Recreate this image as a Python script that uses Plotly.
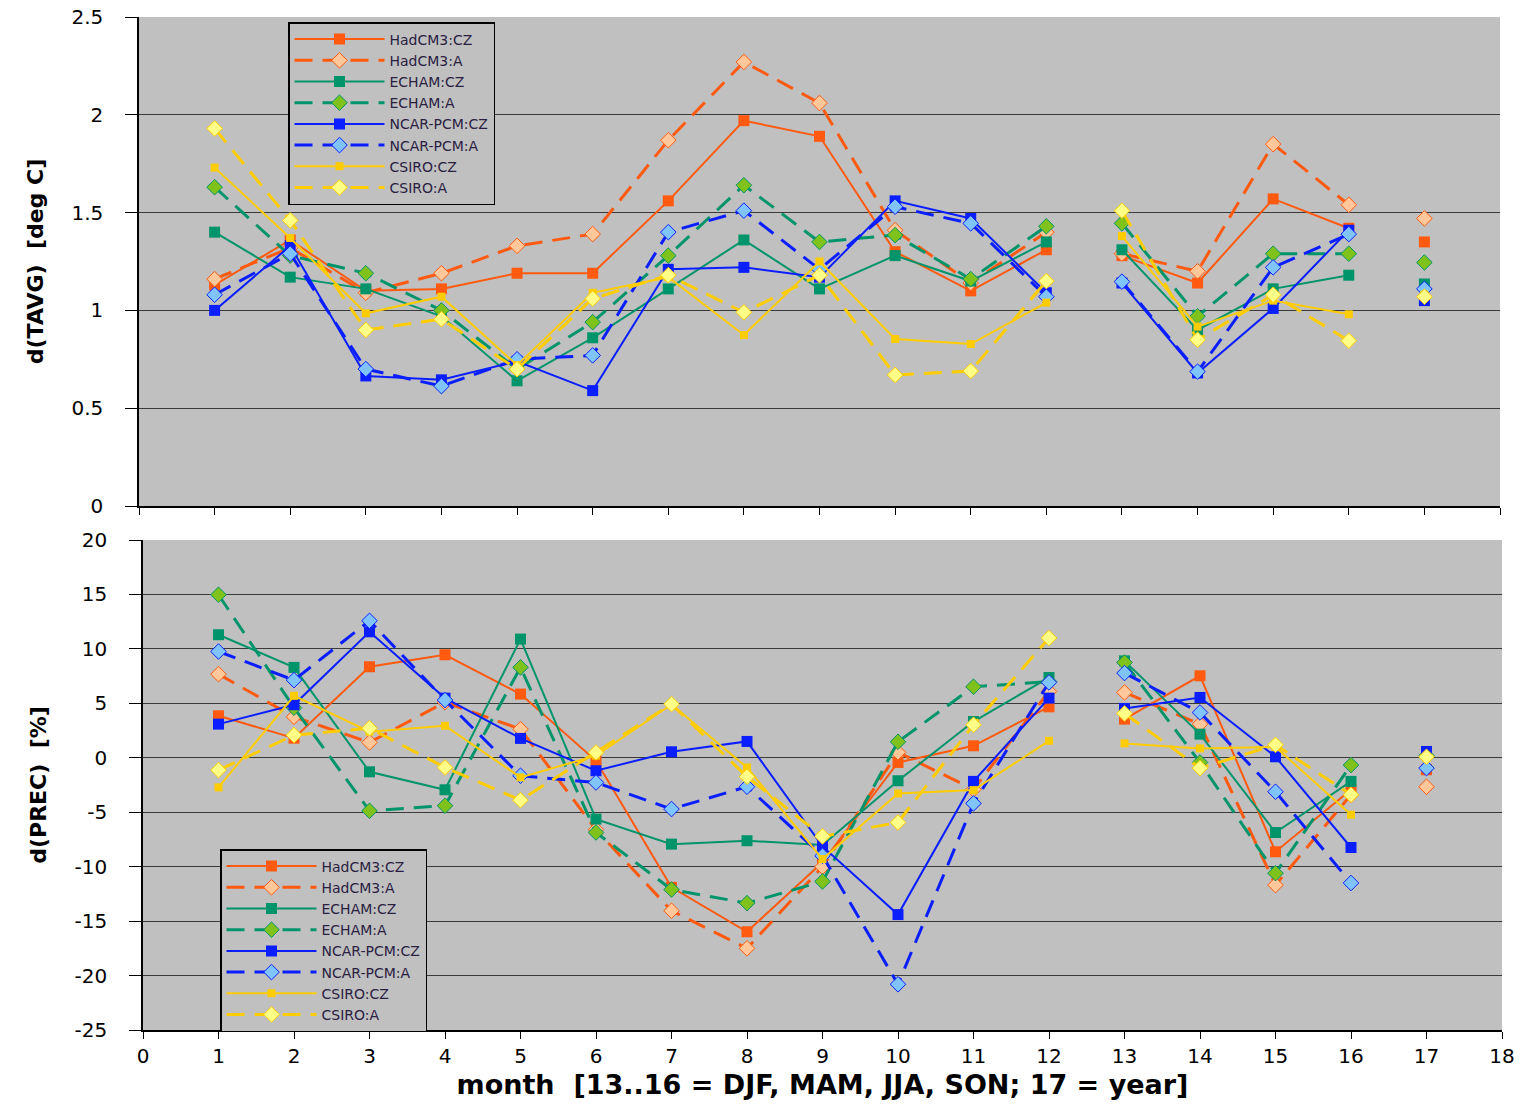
import plotly.graph_objects as go

# ---------------- data ----------------
MONTHS = list(range(1, 18))
SEGMENTS = [(1, 12), (13, 16), (17, 17)]
SERIES = ["HadCM3:CZ", "HadCM3:A", "ECHAM:CZ", "ECHAM:A",
          "NCAR-PCM:CZ", "NCAR-PCM:A", "CSIRO:CZ", "CSIRO:A"]

# d(TAVG) [deg C]
hadcm3_cz_t = [1.13, 1.36, 1.10, 1.11, 1.19, 1.19, 1.56, 1.97, 1.89, 1.30, 1.10, 1.31, 1.28, 1.14, 1.57, 1.42, 1.35]
hadcm3_a_t = [1.16, 1.32, 1.09, 1.19, 1.33, 1.39, 1.87, 2.27, 2.06, 1.41, 1.14, 1.40, 1.29, 1.20, 1.85, 1.54, 1.47]
echam_cz_t = [1.40, 1.17, 1.11, 0.97, 0.64, 0.86, 1.11, 1.36, 1.11, 1.28, 1.15, 1.35, 1.31, 0.90, 1.11, 1.18, 1.135]
echam_a_t = [1.63, 1.28, 1.19, 1.00, 0.70, 0.94, 1.28, 1.64, 1.35, 1.385, 1.16, 1.43, 1.445, 0.97, 1.29, 1.29, 1.245]
ncar_cz_t = [1.00, 1.33, 0.665, 0.645, 0.74, 0.59, 1.21, 1.22, 1.17, 1.56, 1.47, 1.09, 1.14, 0.68, 1.01, 1.41, 1.05]
ncar_a_t = [1.08, 1.29, 0.70, 0.613, 0.75, 0.77, 1.40, 1.51, 1.21, 1.53, 1.445, 1.07, 1.147, 0.687, 1.22, 1.39, 1.11]
csiro_cz_t = [1.73, 1.37, 0.985, 1.07, 0.72, 1.09, 1.17, 0.874, 1.25, 0.854, 0.828, 1.04, 1.38, 0.917, 1.05, 0.98, 1.08]
csiro_a_t = [1.93, 1.46, 0.90, 0.955, 0.70, 1.06, 1.18, 0.99, 1.18, 0.67, 0.69, 1.15, 1.51, 0.85, 1.08, 0.845, 1.07]

# d(PREC) [%]
hadcm3_cz_p = [3.86, 1.8, 8.36, 9.46, 5.85, -0.28, -11.9, -15.98, -9.6, -0.43, 1.1, 4.68, 3.55, 7.53, -8.63, -2.94, -1.1]
hadcm3_a_p = [7.68, 3.76, 1.41, 5.1, 2.63, -6.6, -14.05, -17.5, -10.0, 0.5, -2.9, 6.09, 6.0, 3.09, -11.69, -3.4, -2.66]
echam_cz_p = [11.3, 8.3, -1.29, -2.94, 10.9, -5.63, -7.93, -7.62, -8.0, -2.11, 3.33, 7.37, 8.9, 2.17, -6.86, -2.17, 0.3]
echam_a_p = [14.97, 4.6, -4.87, -4.4, 8.3, -6.86, -12.1, -13.35, -11.36, 1.47, 6.52, 7.0, 8.75, -0.43, -10.6, -0.67, 0.2]
ncar_cz_p = [3.09, 4.87, 11.57, 5.48, 1.78, -1.19, 0.55, 1.5, -8.14, -14.4, -2.17, 5.48, 4.53, 5.54, 0.09, -8.24, 0.58]
ncar_a_p = [9.76, 7.13, 12.58, 5.3, -1.65, -2.27, -4.71, -2.66, -9.0, -20.8, -4.19, 6.92, 7.78, 4.16, -3.12, -11.5, -0.95]
csiro_cz_p = [-2.72, 5.69, 2.4, 2.94, -1.8, 0.2, 4.9, -0.89, -9.3, -3.28, -2.97, 1.56, 1.32, 0.86, 1.0, -5.23, 0.0]
csiro_a_p = [-1.13, 2.08, 2.72, -0.89, -3.89, 0.49, 4.93, -1.74, -7.22, -5.94, 3.03, 11.0, 4.07, -0.95, 1.19, -3.4, 0.09]

TOP = [hadcm3_cz_t, hadcm3_a_t, echam_cz_t, echam_a_t, ncar_cz_t, ncar_a_t, csiro_cz_t, csiro_a_t]
BOT = [hadcm3_cz_p, hadcm3_a_p, echam_cz_p, echam_a_p, ncar_cz_p, ncar_a_p, csiro_cz_p, csiro_a_p]

TOP_TICKS = [0, 0.5, 1, 1.5, 2, 2.5]
TOP_TICKTEXT = ["0", "0.5", "1", "1.5", "2", "2.5"]
BOT_TICKS = [-25, -20, -15, -10, -5, 0, 5, 10, 15, 20]
BOT_TICKTEXT = ["-25", "-20", "-15", "-10", "-5", "0", "5", "10", "15", "20"]
X_TICKS = list(range(0, 19))

# ---------------- styles ----------------
MAIN = {"HadCM3": "#ff5a0f", "ECHAM": "#00946a", "NCAR-PCM": "#0a1eff", "CSIRO": "#ffcc00"}
LIGHT = {"HadCM3": "#ffc79a", "ECHAM": "#80c21c", "NCAR-PCM": "#80c4ff", "CSIRO": "#ffff88"}
FONT = "DejaVu Sans"


def segmented(vals):
    xs, ys = [], []
    for a, b in SEGMENTS:
        for m in range(a, b + 1):
            xs.append(MONTHS[m - 1])
            ys.append(vals[m - 1])
        xs.append(None)
        ys.append(None)
    return xs, ys


def style(name):
    model, kind = name.split(":")
    c = MAIN[model]
    if kind == "CZ":
        size = 8 if model == "CSIRO" else 11
        return dict(line=dict(color=c, width=2),
                    marker=dict(symbol="square", size=size, color=c,
                                line=dict(color=c, width=0)))
    return dict(line=dict(color=c, width=3, dash="18px,10px"),
                marker=dict(symbol="diamond", size=12, color=LIGHT[model],
                            line=dict(color=c, width=1)))


fig = go.Figure()
for name, vals in zip(SERIES, TOP):
    xs, ys = segmented(vals)
    fig.add_trace(go.Scatter(x=xs, y=ys, name=name, mode="lines+markers",
                             xaxis="x", yaxis="y", legend="legend",
                             connectgaps=False, **style(name)))
for name, vals in zip(SERIES, BOT):
    xs, ys = segmented(vals)
    fig.add_trace(go.Scatter(x=xs, y=ys, name=name, mode="lines+markers",
                             xaxis="x2", yaxis="y2", legend="legend2",
                             connectgaps=False, **style(name)))

base_axis = dict(showline=True, linecolor="black", linewidth=1.5,
                 ticks="outside", tickcolor="black", tickwidth=1.2,
                 tickfont=dict(family=FONT, size=20, color="black"),
                 zeroline=False, automargin=False, ticklabeloverflow="allow")
xaxis_common = dict(ticklen=7, **base_axis)
yaxis_common = dict(ticklen=12, ticklabelstandoff=18, **base_axis)

# body margin is removed by the post script, so the figure fills the window
OFF = 0
W, H = 1526, 1106
ML, MT = 139, 17
MR, MB = W - 1502, H - 1030
PW, PH = W - ML - MR, H - MT - MB


def fx(px):
    return (px - OFF - ML) / PW


def fy(py):
    return (OFF + H - MB - py) / PH


legend_common = dict(bgcolor="#c0c0c0", bordercolor="black", borderwidth=1.5,
                     font=dict(family=FONT, size=14, color="#2a2040"),
                     xanchor="left", yanchor="top", itemwidth=90,
                     tracegroupgap=0, traceorder="normal")

fig.update_layout(
    width=W, height=H,
    margin=dict(l=ML, r=MR, t=MT, b=MB, autoexpand=False),
    paper_bgcolor="white",
    plot_bgcolor="#c0c0c0",
    showlegend=True,
    font=dict(family=FONT, color="black"),
    xaxis=dict(domain=[0, fx(1500)], range=[0, 18], tickvals=X_TICKS,
               showticklabels=False, showgrid=False, anchor="y", **xaxis_common),
    yaxis=dict(domain=[fy(506), 1], range=[0, 2.5], tickvals=TOP_TICKS,
               ticktext=TOP_TICKTEXT, showgrid=True, gridcolor="#3a3a3a",
               gridwidth=1.2, anchor="x",
               title=dict(text="d(TAVG)  [deg C]", standoff=22,
                          font=dict(family=FONT, size=22, color="black", weight="bold")),
               **yaxis_common),
    xaxis2=dict(domain=[fx(143), 1], range=[0, 18], tickvals=X_TICKS,
                showgrid=False, anchor="y2",
                title=dict(text="month  [13..16 = DJF, MAM, JJA, SON; 17 = year]",
                           standoff=8,
                           font=dict(family=FONT, size=27, color="black", weight="bold")),
                **xaxis_common),
    yaxis2=dict(domain=[0, fy(540)], range=[-25, 20], tickvals=BOT_TICKS,
                ticktext=BOT_TICKTEXT, showgrid=True, gridcolor="#3a3a3a",
                gridwidth=1.2, anchor="x2",
                title=dict(text="d(PREC)  [%]", standoff=22,
                           font=dict(family=FONT, size=22, color="black", weight="bold")),
                **yaxis_common),
    legend=dict(x=fx(288), y=fy(22), **legend_common),
    legend2=dict(x=fx(220), y=fy(849), **legend_common),
)

fig.write_html("out.html", config={"displayModeBar": False},
               post_script="document.body.style.margin='0';")
